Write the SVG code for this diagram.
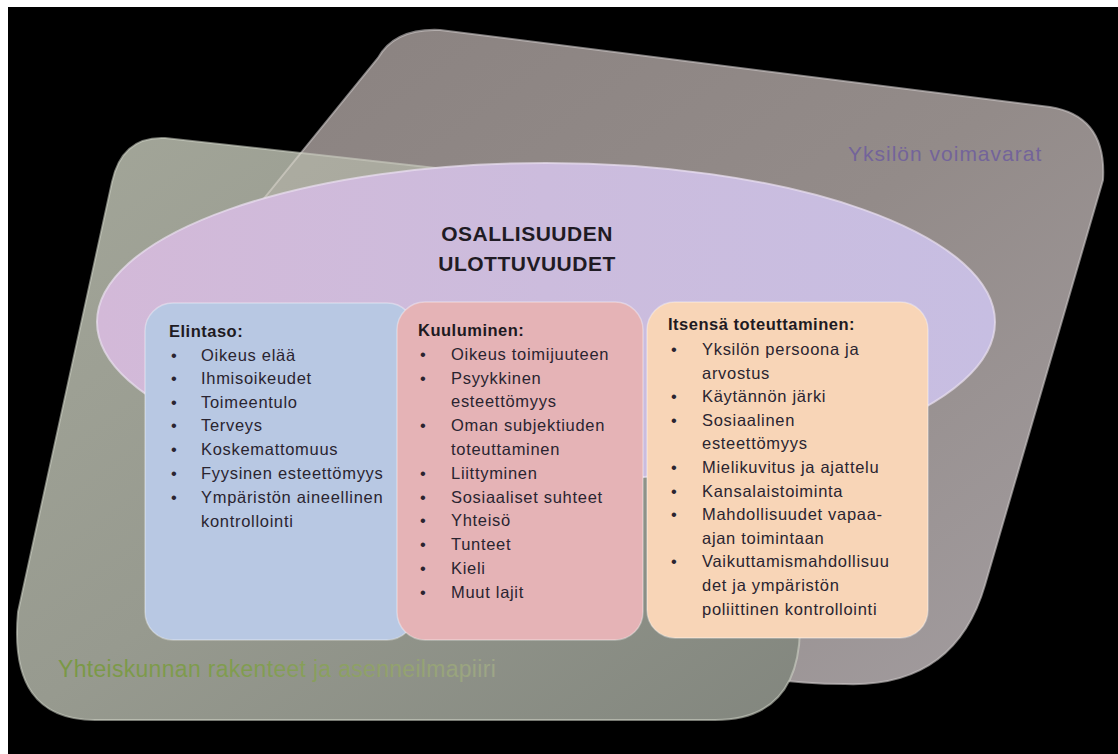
<svg xmlns="http://www.w3.org/2000/svg" width="1118" height="754" viewBox="0 0 1118 754">
<defs>
  <linearGradient id="gBack" x1="0" y1="0" x2="1" y2="1">
    <stop offset="0" stop-color="#8a8280"/>
    <stop offset="0.5" stop-color="#938b89"/>
    <stop offset="1" stop-color="#a39da0"/>
  </linearGradient>
  <linearGradient id="gFront" x1="0" y1="0" x2="1" y2="1">
    <stop offset="0" stop-color="#a3a699"/>
    <stop offset="0.5" stop-color="#979a8f"/>
    <stop offset="1" stop-color="#82867e"/>
  </linearGradient>
  <linearGradient id="gEll" x1="0" y1="0" x2="1" y2="0">
    <stop offset="0" stop-color="#d3b9d8"/>
    <stop offset="0.5" stop-color="#ccbcdd"/>
    <stop offset="1" stop-color="#c7bee2"/>
  </linearGradient>
  <linearGradient id="gGreen" gradientUnits="userSpaceOnUse" x1="58" y1="0" x2="500" y2="0">
    <stop offset="0" stop-color="#7a9845"/>
    <stop offset="0.45" stop-color="#819d50"/>
    <stop offset="0.75" stop-color="#92a26c"/>
    <stop offset="1" stop-color="#9ea689"/>
  </linearGradient>
  <clipPath id="cFront">
    <path d="M 165,138 L 770,205 Q 808,210 806,250 L 800,630 Q 798,720 715,720 L 95,720 Q 8,720 18,612 L 112,182 Q 122,136 165,138 Z"/>
  </clipPath>
  <clipPath id="cTop">
    <rect x="0" y="0" width="1118" height="260"/>
  </clipPath>
</defs>
<style>
  .t { font-family: "Liberation Sans", Arial, sans-serif; font-size: 16.5px; letter-spacing: 0.7px; fill: #2a2430; }
  .h { font-family: "Liberation Sans", Arial, sans-serif; font-size: 16.5px; font-weight: bold; letter-spacing: 0.5px; fill: #1e1a22; }
  .box { stroke: #ffffff; stroke-opacity: 0.35; stroke-width: 1.5; }
  .title { font-family: "Liberation Sans", Arial, sans-serif; font-size: 21px; font-weight: bold; letter-spacing: 0.5px; fill: #1f1b24; text-anchor: middle; }
</style>

<rect x="0" y="0" width="1118" height="754" fill="#ffffff"/>
<rect x="8" y="7" width="1110" height="747" fill="#000000"/>

<g id="yksilon-voimavarat">
  <path d="M 440,30 L 1050,107 Q 1107,116 1103,180 L 985,585 Q 955,688 845,684 C 640,684 420,560 265,445 Q 215,420 215,380 L 218,300 Q 220,260 240,228 L 378,58 Q 395,28 440,30 Z" fill="url(#gBack)" stroke="#cfc9ca" stroke-opacity="0.6" stroke-width="2"/>
  <text x="848" y="161" font-family="'Liberation Sans', Arial, sans-serif" font-size="21" letter-spacing="1" fill="#73649a">Yksilön voimavarat</text>
</g>

<g id="yhteiskunnan-rakenteet">
  <path d="M 165,138 L 770,205 Q 808,210 806,250 L 800,630 Q 798,720 715,720 L 95,720 Q 8,720 18,612 L 112,182 Q 122,136 165,138 Z" fill="url(#gFront)" stroke="#d3d7cb" stroke-opacity="0.55" stroke-width="2"/>
  <g clip-path="url(#cTop)">
    <path clip-path="url(#cFront)" d="M 440,30 L 1050,107 Q 1107,116 1103,180 L 985,585 Q 955,688 845,684 C 640,684 420,560 265,445 Q 215,420 215,380 L 218,300 Q 220,260 240,228 L 378,58 Q 395,28 440,30 Z" fill="#c2bcb4" fill-opacity="0.35" stroke="#d8d4cc" stroke-opacity="0.6" stroke-width="2"/>
  </g>
  <text x="58" y="677" font-family="'Liberation Sans', Arial, sans-serif" font-size="23" letter-spacing="0.3" fill="url(#gGreen)">Yhteiskunnan rakenteet ja asenneilmapiiri</text>
</g>

<g id="osallisuuden-ulottuvuudet">
  <ellipse cx="546" cy="322" rx="449" ry="159" fill="url(#gEll)" stroke="#e9e0f0" stroke-opacity="0.7" stroke-width="2"/>
  <text class="title" x="527" y="241">OSALLISUUDEN</text>
  <text class="title" x="527" y="271">ULOTTUVUUDET</text>
</g>

<g id="elintaso">
  <rect class="box" x="145" y="303" width="270" height="337" rx="28" fill="#b8c8e3"/>
  <text class="h" x="169" y="337">Elintaso:</text>
  <text class="t" x="171" y="361">•</text><text class="t" x="201" y="361">Oikeus elää</text>
  <text class="t" x="171" y="384">•</text><text class="t" x="201" y="384">Ihmisoikeudet</text>
  <text class="t" x="171" y="408">•</text><text class="t" x="201" y="408">Toimeentulo</text>
  <text class="t" x="171" y="431">•</text><text class="t" x="201" y="431">Terveys</text>
  <text class="t" x="171" y="455">•</text><text class="t" x="201" y="455">Koskemattomuus</text>
  <text class="t" x="171" y="479">•</text><text class="t" x="201" y="479">Fyysinen esteettömyys</text>
  <text class="t" x="171" y="503">•</text><text class="t" x="201" y="503">Ympäristön aineellinen</text>
  <text class="t" x="201" y="527">kontrollointi</text>
</g>

<g id="kuuluminen">
  <rect class="box" x="397" y="302" width="246" height="338" rx="28" fill="#e5b3b6"/>
  <text class="h" x="418" y="336">Kuuluminen:</text>
  <text class="t" x="420" y="360">•</text><text class="t" x="451" y="360">Oikeus toimijuuteen</text>
  <text class="t" x="420" y="384">•</text><text class="t" x="451" y="384">Psyykkinen</text>
  <text class="t" x="451" y="407">esteettömyys</text>
  <text class="t" x="420" y="431">•</text><text class="t" x="451" y="431">Oman subjektiuden</text>
  <text class="t" x="451" y="455">toteuttaminen</text>
  <text class="t" x="420" y="479">•</text><text class="t" x="451" y="479">Liittyminen</text>
  <text class="t" x="420" y="503">•</text><text class="t" x="451" y="503">Sosiaaliset suhteet</text>
  <text class="t" x="420" y="526">•</text><text class="t" x="451" y="526">Yhteisö</text>
  <text class="t" x="420" y="550">•</text><text class="t" x="451" y="550">Tunteet</text>
  <text class="t" x="420" y="574">•</text><text class="t" x="451" y="574">Kieli</text>
  <text class="t" x="420" y="598">•</text><text class="t" x="451" y="598">Muut lajit</text>
</g>

<g id="itsensa-toteuttaminen">
  <rect class="box" x="647" y="302" width="281" height="336" rx="28" fill="#f8d5b7"/>
  <text class="h" x="668" y="330">Itsensä toteuttaminen:</text>
  <text class="t" x="671" y="355">•</text><text class="t" x="702" y="355">Yksilön persoona ja</text>
  <text class="t" x="702" y="379">arvostus</text>
  <text class="t" x="671" y="402">•</text><text class="t" x="702" y="402">Käytännön järki</text>
  <text class="t" x="671" y="426">•</text><text class="t" x="702" y="426">Sosiaalinen</text>
  <text class="t" x="702" y="449">esteettömyys</text>
  <text class="t" x="671" y="473">•</text><text class="t" x="702" y="473">Mielikuvitus ja ajattelu</text>
  <text class="t" x="671" y="497">•</text><text class="t" x="702" y="497">Kansalaistoiminta</text>
  <text class="t" x="671" y="520">•</text><text class="t" x="702" y="520">Mahdollisuudet vapaa-</text>
  <text class="t" x="702" y="544">ajan toimintaan</text>
  <text class="t" x="671" y="567">•</text><text class="t" x="702" y="567">Vaikuttamismahdollisuu</text>
  <text class="t" x="702" y="591">det ja ympäristön</text>
  <text class="t" x="702" y="615">poliittinen kontrollointi</text>
</g>

<g id="connectors"/>
</svg>
